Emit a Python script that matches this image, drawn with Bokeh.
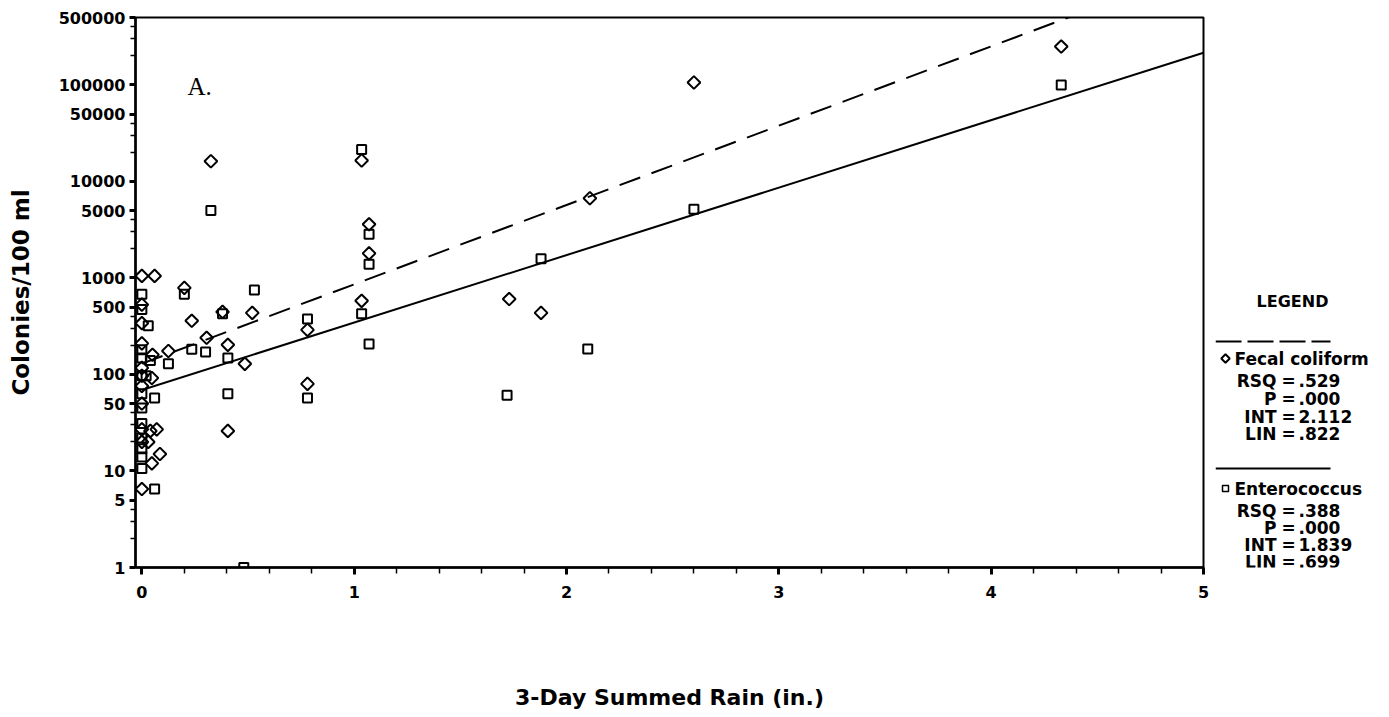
import math
from bokeh.plotting import figure
from bokeh.layouts import row
from bokeh.models import Range1d, FixedTicker, NumeralTickFormatter, Label
from bokeh.core.properties import value
from bokeh.embed import file_html
from bokeh.resources import INLINE

# ---------------- data ----------------
fecal_x = [0, 0, 0, 0, 0, 0, 0, 0, 0, 0, 0,
           0.03, 0.04, 0.05, 0.047, 0.047, 0.06, 0.07, 0.085,
           0.125, 0.2, 0.235, 0.305, 0.325, 0.38, 0.405, 0.405, 0.485, 0.52,
           0.78, 0.78, 1.035, 1.035, 1.07, 1.07, 1.73, 1.88, 2.11, 2.6, 4.33]
fecal_y = [1050, 530, 340, 210, 117, 97, 76, 50, 27, 20, 6.5,
           20, 26, 160, 92, 12, 1050, 27, 15,
           175, 790, 360, 240, 16200, 445, 203, 26, 129, 435,
           290, 80, 580, 16500, 3600, 1800, 605, 435, 6700, 106000, 250000]

entero_x = [0, 0, 0, 0, 0, 0, 0, 0, 0, 0, 0, 0,
            0.02, 0.03, 0.04, 0.06, 0.06, 0.125, 0.2, 0.235, 0.3, 0.325, 0.38, 0.405, 0.405, 0.48, 0.53,
            0.78, 0.78, 1.035, 1.035, 1.07, 1.07, 1.07, 1.72, 1.88, 2.1, 2.6, 4.33]
entero_y = [680, 470, 180, 148, 97, 63, 45, 31, 22, 17, 14, 10.6,
            97, 320, 140, 57, 6.5, 129, 680, 183, 171, 5000, 425, 148, 63, 1, 750,
            376, 57, 21500, 425, 2840, 1390, 207, 61, 1580, 184, 5150, 100000]

fecal_int, fecal_lin = 2.112, 0.822
entero_int, entero_lin = 1.839, 0.699
line_x = [0, 5]

x_ticks = [0, 1, 2, 3, 4, 5]
x_minor = [round(i * 0.2, 1) for i in range(26) if i % 5 != 0]
y_ticks = [1, 5, 10, 50, 100, 500, 1000, 5000, 10000, 50000, 100000, 500000]
y_minor = [m * 10 ** k for k in range(6) for m in (2, 3, 4)]

legend_title = "LEGEND"
fecal_name = "Fecal coliform"
entero_name = "Enterococcus"
stat_keys = ["RSQ", "P", "INT", "LIN"]
fecal_vals = [".529", ".000", "2.112", ".822"]
entero_vals = [".388", ".000", "1.839", ".699"]

x_label = "3-Day Summed Rain (in.)"
y_label = "Colonies/100 ml"
panel_label = "A."

# ---------------- layout constants ----------------
W, H = 1389, 717
W1 = 1215                      # width of the chart part; legend panel fills the rest
L, R, T, B = 135, 1203, 17, 567
XS, XE = -0.03, 5.0
YS, YE = 1, 500000


def dx(px):
    return XS + (px - L) / (R - L) * (XE - XS)


def dy(py):
    return 10 ** (math.log10(YS) + (B - py) / (B - T) * (math.log10(YE) - math.log10(YS)))


FONT = "DejaVu Sans"

p = figure(width=W1, height=H, x_range=Range1d(XS, XE), y_range=Range1d(YS, YE),
           y_axis_type="log", output_backend="svg", toolbar_location=None,
           min_border_left=L, min_border_right=W1 - R, min_border_top=T, min_border_bottom=H - B)
p.background_fill_color = "white"
p.border_fill_color = "white"
p.outline_line_color = "black"
p.outline_line_width = 2
p.xgrid.visible = False
p.ygrid.visible = False

for ax in (p.xaxis[0], p.yaxis[0]):
    ax.axis_line_color = "black"
    ax.axis_line_width = 2.5
    ax.major_tick_in = 0
    ax.minor_tick_in = 0
    ax.major_tick_line_width = 3
    ax.minor_tick_line_width = 1.5
    ax.major_label_text_font = FONT
    ax.major_label_text_font_style = "bold"
    ax.major_label_text_font_size = "16px"
    ax.major_label_text_color = "black"
    ax.axis_label_text_font = FONT
    ax.axis_label_text_font_style = "bold"
    ax.axis_label_text_color = "black"

p.xaxis.ticker = FixedTicker(ticks=x_ticks, minor_ticks=x_minor)
p.xaxis.major_tick_out = 7
p.xaxis.minor_tick_out = 6
p.xaxis.major_label_standoff = 11
p.xaxis.axis_label = x_label
p.xaxis.axis_label_text_font_size = "22px"
p.xaxis.axis_label_standoff = 84

p.yaxis.ticker = FixedTicker(ticks=y_ticks, minor_ticks=y_minor)
p.yaxis.formatter = NumeralTickFormatter(format="0")
p.yaxis.major_tick_out = 6
p.yaxis.minor_tick_out = 5
p.yaxis.major_label_standoff = 4
p.yaxis.axis_label = y_label
p.yaxis.axis_label_text_font_size = "23px"
p.yaxis.axis_label_standoff = 22

# regression lines
fecal_line_y = [10 ** (fecal_int + fecal_lin * x) for x in line_x]
entero_line_y = [10 ** (entero_int + entero_lin * x) for x in line_x]
p.line(line_x, fecal_line_y, line_color="black", line_width=2, line_dash="22 12")
p.line(line_x, entero_line_y, line_color="black", line_width=2)

# points
p.scatter(fecal_x, fecal_y, marker="square", angle=math.pi / 4, size=9,
          fill_color=None, line_color="black", line_width=2)
p.scatter(entero_x, entero_y, marker="square", size=9,
          fill_color=None, line_color="black", line_width=2)

p.add_layout(Label(x=dx(187), y=dy(86), text=panel_label, text_font="Liberation Serif",
                   text_font_size="25px", text_color="black", text_baseline="alphabetic"))

# ---------------- legend panel (pixel-like coordinates, y downwards) ----------------
# the row aligns this panel's frame with the chart frame (pixels T..B)
W2 = W - W1
q = figure(width=W2, height=H, x_range=Range1d(W1, W), y_range=Range1d(B, T),
           output_backend="svg", toolbar_location=None, x_axis_location=None, y_axis_location=None,
           min_border=0, min_border_left=0, min_border_right=0, min_border_top=T, min_border_bottom=H - B)
q.outline_line_color = None
q.background_fill_color = "white"
q.border_fill_color = "white"
q.grid.visible = False

fecal_rows = [380, 398, 416, 433]
entero_rows = [510, 527, 544, 561]
txt = dict(text_font=value(FONT), text_font_style="bold", text_color="black", text_baseline="middle")

q.text(x=[1292], y=[301], text=[legend_title], text_align="center", text_font_size="16px", **txt)
q.line(x=[1215, 1330], y=[341, 341], line_color="black", line_width=2, line_dash="26 6")
q.line(x=[1215, 1330], y=[468, 468], line_color="black", line_width=2)
q.scatter(x=[1225], y=[358], marker="square", angle=math.pi / 4, size=6,
          fill_color=None, line_color="black", line_width=2)
q.scatter(x=[1225], y=[488], marker="square", size=6,
          fill_color=None, line_color="black", line_width=1.5)
q.text(x=[1234, 1234], y=[358, 488], text=[fecal_name, entero_name], text_align="left",
       text_font_size="17px", **txt)
rows_y = fecal_rows + entero_rows
q.text(x=[1276] * 8, y=rows_y, text=stat_keys + stat_keys, text_align="right",
       text_font_size="17px", **txt)
q.text(x=[1288] * 8, y=rows_y, text=["="] * 8, text_align="center", text_font_size="17px", **txt)
q.text(x=[1298] * 8, y=rows_y, text=fecal_vals + entero_vals, text_align="left",
       text_font_size="17px", **txt)

layout = row(p, q, spacing=0)
open("out.html", "w").write(file_html(layout, INLINE))
